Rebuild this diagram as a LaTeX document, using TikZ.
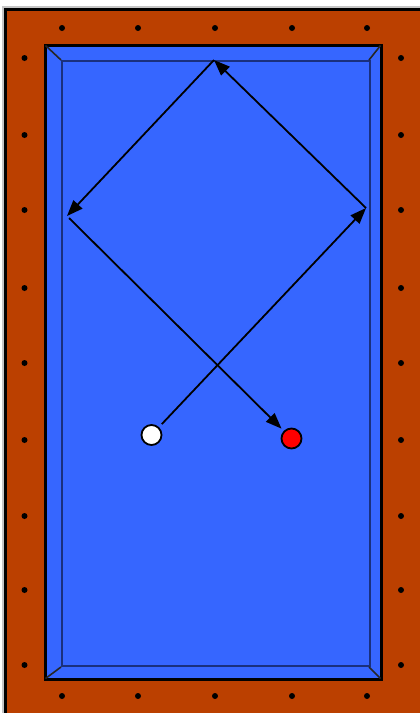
\documentclass[tikz,border=0pt]{standalone}
\usetikzlibrary{arrows.meta}
\definecolor{rail}{RGB}{187,64,0}
\definecolor{felt}{RGB}{54,102,255}
\definecolor{feltline}{RGB}{26,48,125}
\begin{document}
\begin{tikzpicture}[x=1pt,y=-1pt,
  sight/.style={fill=black,circle,inner sep=0pt,minimum size=6pt},
  ball/.style={circle,draw=black,line width=1.8pt,minimum size=20pt,inner sep=0pt,outer sep=3pt},
  shot/.style={line width=1.8pt,-{Triangle[length=16pt,width=12pt]}}]
\useasboundingbox (0,0) rectangle (420,713);
\clip (0,0) rectangle (420,713);
\fill[white] (0,0) rectangle (420,713);
% rail
\draw[gray!45,line width=1.5pt] (3,7) rectangle (440,740);
\draw[fill=rail,draw=black,line width=2.2pt] (5.5,9.5) rectangle (440,740);
% cushion and felt
\draw[fill=felt,draw=black,line width=3pt] (45,45) rectangle (381,679);
\draw[feltline,line width=2.4pt] (62,61) rectangle (370,666);
\draw[black!85,line width=1.6pt] (45.5,45.5) -- (61,60) (380.5,45.5) -- (369,60) (45.5,678.5) -- (61,667) (380.5,678.5) -- (369,667);
% sights
\foreach \x in {62,138,215,292,367} {
  \node[sight] at (\x,28) {};
  \node[sight] at (\x,696) {};
}
\foreach \y in {58,135,210,288,363,440,516,590,665} {
  \node[sight] at (24.5,\y) {};
  \node[sight] at (401,\y) {};
}
% balls
\node[ball,fill=white] (cue) at (151.5,435) {};
\node[ball,fill=red] (obj) at (291.5,438.5) {};
\coordinate (b1) at (366,208);
\coordinate (b2) at (214,60);
\coordinate (b3) at (67,216);
\draw[shot,shorten <=2pt] (cue) -- (b1);
\draw[shot] (b1) -- (b2);
\draw[shot] (b2) -- (b3);
\draw[shot,shorten <=3pt,shorten >=1pt] (b3) -- (obj);
\end{tikzpicture}
\end{document}
